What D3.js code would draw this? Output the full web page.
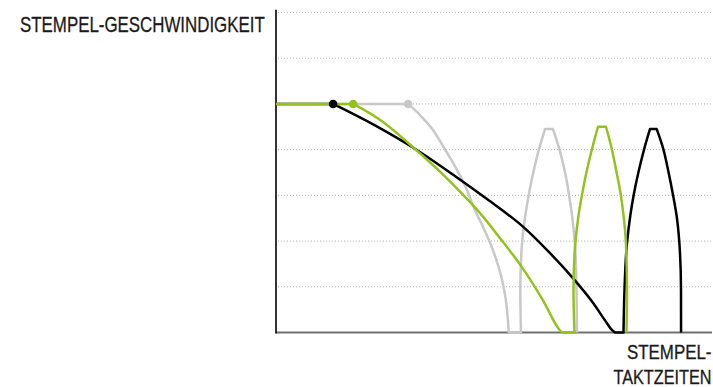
<!DOCTYPE html>
<html><head><meta charset="utf-8">
<script src="https://cdn.jsdelivr.net/npm/d3@7"></script>
<style>html,body{margin:0;padding:0;background:#fff;}svg{display:block;}</style>
</head><body>
<svg id="chart" width="713" height="387"></svg>
<script>
// ---- data (x: relative stroke time 0..100, y: speed level 0..7) ----
const yGridTicks = [1, 2, 3, 4, 5, 6, 7];
const yLabel = "STEMPEL-GESCHWINDIGKEIT";
const xLabelLines = ["STEMPEL-", "TAKTZEITEN"];
const seriesNames = ["grau", "schwarz", "gruen"];
const seriesColors = ["#c8c8c8", "#000000", "#95c11f"];

// descent phase: starts at the marked point (end of constant speed), ends on the time axis
const grauDescent = [[30.3,5],[33.0,4.76],[36.0,4.43],[38.8,4.0],[41.5,3.56],[43.8,3.12],[45.6,2.68],[47.5,2.31],[49.1,1.96],[50.7,1.54],[52.1,1.04],[53.0,0.49],[53.4,0]];
const schwarzDescent = [[13.1,5],[22.7,4.53],[33.0,3.95],[41.1,3.42],[48.4,2.92],[56.7,2.31],[62.4,1.78],[68.1,1.19],[72.7,0.65],[75.5,0.26],[77.1,0.05],[77.75,0]];
const gruenDescent = [[17.7,5],[23.9,4.65],[33.0,3.92],[37.6,3.52],[42.2,3.08],[46.8,2.61],[51.4,2.06],[56.4,1.43],[61.2,0.71],[65.1,0.05],[65.6,0]];

// return stroke: from the time axis up to the peak and back down
const grauReturn = [[56.19,0],[56.03,0.93],[56.4,1.91],[57.2,2.57],[57.96,3.01],[59.04,3.51],[60.41,4.04],[61.7,4.45],[63.53,4.45],[64.91,4.04],[66.28,3.51],[67.2,3.01],[67.89,2.57],[68.58,1.91],[68.92,0.93],[69.04,0]];
const schwarzReturn = [[79.7,0],[79.93,0.93],[80.46,1.91],[81.28,2.57],[82.04,3.01],[83.14,3.51],[84.52,4.04],[85.78,4.45],[87.32,4.45],[88.76,4.04],[90.02,3.51],[91.06,3.01],[91.86,2.57],[92.55,1.91],[92.89,0.93],[92.9,0]];
const gruenReturn = [[68.46,0],[68.23,0.93],[68.62,1.91],[69.4,2.57],[70.18,3.01],[71.22,3.51],[72.55,4.04],[73.85,4.5],[75.69,4.5],[76.95,4.04],[78.1,3.51],[79.08,3.01],[79.7,2.57],[80.28,1.91],[80.5,0.93],[80.39,0]];

const descents = [grauDescent, schwarzDescent, gruenDescent];
const returns = [grauReturn, schwarzReturn, gruenReturn];

// ---- layout ----
const svg = d3.select("#chart");
const x = d3.scaleLinear().domain([0, 100]).range([276, 712]);
const y = d3.scaleLinear().domain([0, 7]).range([332.5, 12.5]);

// gridlines
svg.append("g").selectAll("line").data(yGridTicks).join("line")
  .attr("x1", x(0) + 2).attr("x2", x(100) + 1)
  .attr("y1", d => y(d)).attr("y2", d => y(d))
  .attr("stroke", "#b4b4b4").attr("stroke-width", 1)
  .attr("stroke-dasharray", "1,2");

// axes
svg.append("line")
  .attr("x1", x(0)).attr("x2", x(100))
  .attr("y1", y(0)).attr("y2", y(0))
  .attr("stroke", "#707070").attr("stroke-width", 2);
svg.append("line")
  .attr("x1", x(0)).attr("x2", x(0))
  .attr("y1", y(7.06)).attr("y2", y(0) + 1)
  .attr("stroke", "#000").attr("stroke-width", 1.6);

// build one continuous path per series from its phases
function segPath(pts, curve) {
  return d3.line().x(d => x(d[0])).y(d => y(d[1])).curve(curve)(pts);
}
function seriesPath(descent, ret) {
  const plateau = [[0, descent[0][1]], descent[0]];
  const bottom = [descent[descent.length - 1], ret[0]];
  const maxV = d3.max(ret, d => d[1]);
  const i0 = ret.findIndex(d => d[1] === maxV);
  let i1 = i0; while (i1 + 1 < ret.length && ret[i1 + 1][1] === maxV) i1++;
  const parts = [
    [plateau, d3.curveLinear],
    [descent, d3.curveMonotoneX],
    [bottom, d3.curveLinear],
    [ret.slice(0, i0 + 1), d3.curveMonotoneY],
    [ret.slice(i0, i1 + 1), d3.curveLinear],
    [ret.slice(i1), d3.curveMonotoneY]
  ];
  return parts.map((p, k) => {
    const s = segPath(p[0], p[1]);
    return k === 0 ? s : "L" + s.slice(1);
  }).join("");
}

svg.append("g").selectAll("path").data(seriesNames).join("path")
  .attr("d", (d, i) => seriesPath(descents[i], returns[i]))
  .attr("fill", "none")
  .attr("stroke", (d, i) => seriesColors[i])
  .attr("stroke-width", 2.5)
  .attr("stroke-linejoin", "round");

// markers at the end of the constant-speed phase
svg.append("g").selectAll("circle").data(descents).join("circle")
  .attr("cx", d => x(d[0][0]))
  .attr("cy", d => y(d[0][1]))
  .attr("r", 4.3)
  .attr("fill", (d, i) => seriesColors[i]);

// labels: a regular sans scaled horizontally to mimic a condensed face
const fontFam = "'Liberation Sans', Arial, sans-serif";
function fitText(txt, left, right, baseline, size) {
  const g = svg.append("g");
  const t = g.append("text")
    .attr("x", 0).attr("y", 0)
    .attr("font-family", fontFam).attr("font-size", size)
    .attr("fill", "#1a1a1a").attr("stroke", "#1a1a1a").attr("stroke-width", 0.3)
    .text(txt);
  const w = t.node().getComputedTextLength();
  const s = (right - left) / w;
  g.attr("transform", `translate(${left},${baseline}) scale(${s},1)`);
}
fitText(yLabel, 20, 265, 31.5, 22.5);
fitText(xLabelLines[0], 627, 711.5, 359, 19.5);
fitText(xLabelLines[1], 613.5, 711.5, 383.5, 19.5);
</script>
</body></html>
